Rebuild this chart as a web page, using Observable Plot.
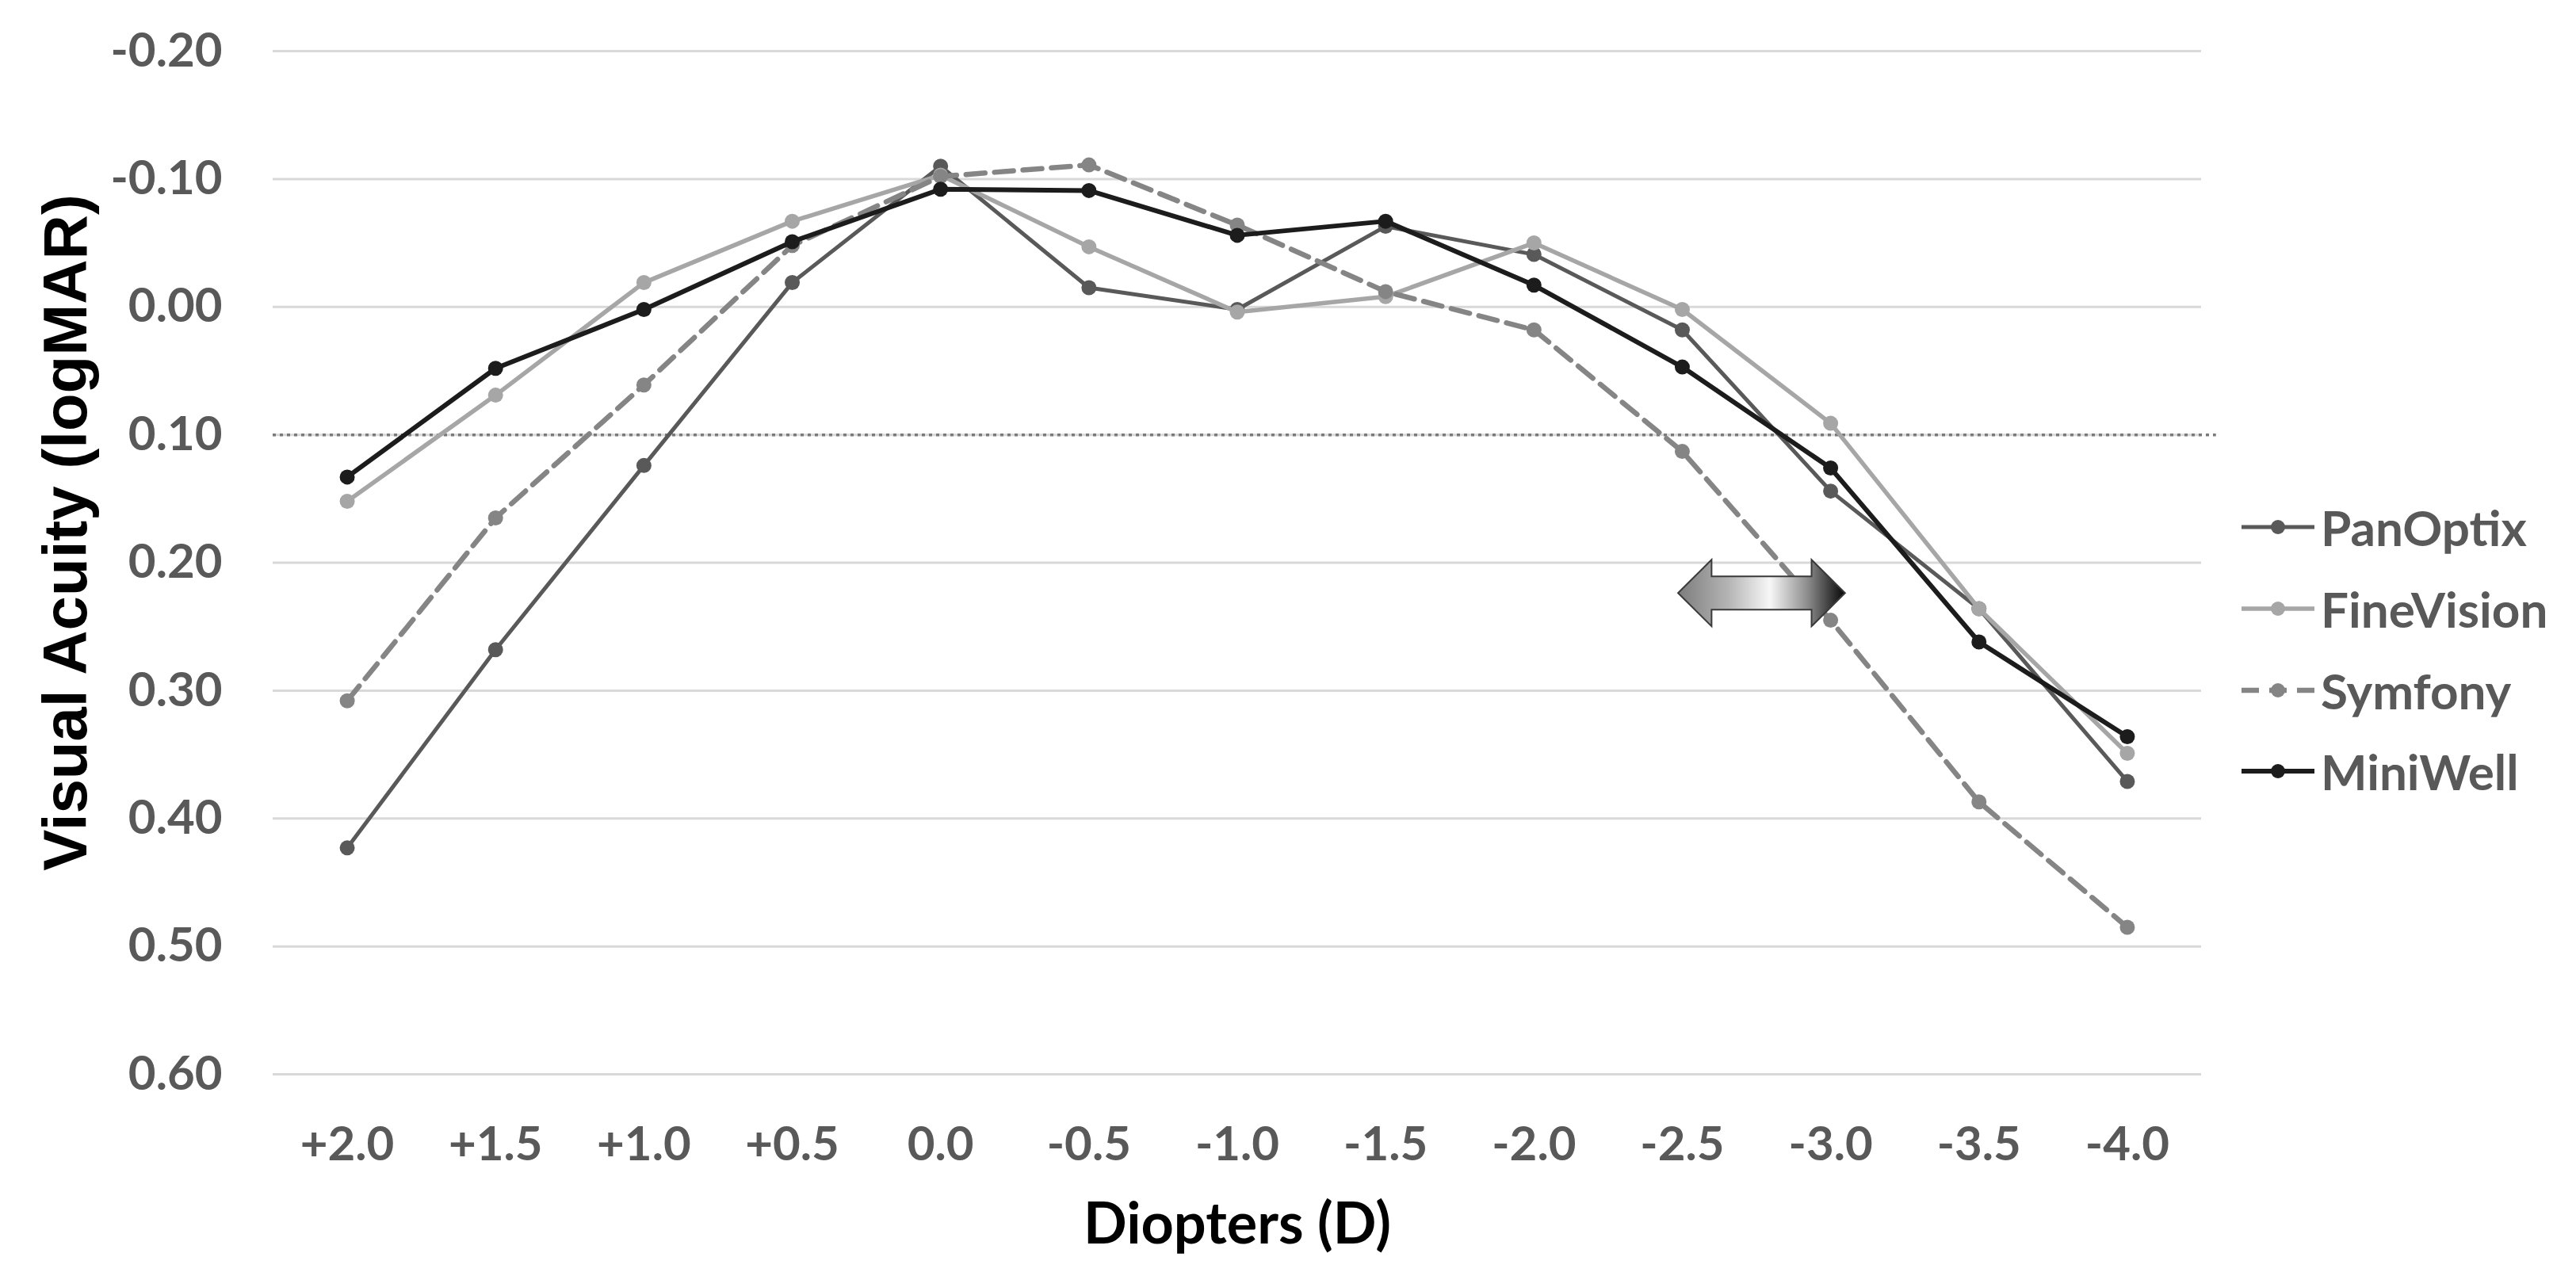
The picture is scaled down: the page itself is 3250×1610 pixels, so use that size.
<!DOCTYPE html>
<html>
<head>
<meta charset="utf-8">
<script src="https://cdn.jsdelivr.net/npm/d3@7"></script>
<script src="https://cdn.jsdelivr.net/npm/@observablehq/plot@0.6"></script>
<style>
  html, body { margin: 0; padding: 0; background: #fff; }
  #wrap { position: relative; width: 3250px; height: 1610px; }
  #legend { position: absolute; left: 2828px; top: 614px; font-family: Lato, sans-serif; font-weight: 700; font-size: 62px; color: #595959; }
  .row { display: flex; align-items: center; height: 102.7px; }
  .row svg { margin-right: 8px; }
</style>
</head>
<body>
<div id="wrap"></div>
<script>
// ---- data ----
const diopters = [2.0, 1.5, 1.0, 0.5, 0.0, -0.5, -1.0, -1.5, -2.0, -2.5, -3.0, -3.5, -4.0];
const xTickLabels = ["+2.0", "+1.5", "+1.0", "+0.5", "0.0", "-0.5", "-1.0", "-1.5", "-2.0", "-2.5", "-3.0", "-3.5", "-4.0"];
const yTicks = [-0.2, -0.1, 0, 0.1, 0.2, 0.3, 0.4, 0.5, 0.6];
const seriesNames = ["PanOptix", "FineVision", "Symfony", "MiniWell"];
const panOptix   = [0.423, 0.268, 0.124, -0.019, -0.110, -0.015, 0.002, -0.063, -0.041, 0.018, 0.144, 0.236, 0.371];
const fineVision = [0.152, 0.069, -0.019, -0.067, -0.103, -0.047, 0.004, -0.008, -0.050, 0.002, 0.091, 0.236, 0.349];
const symfony    = [0.308, 0.165, 0.061, -0.048, -0.102, -0.111, -0.064, -0.012, 0.018, 0.113, 0.245, 0.387, 0.485];
const miniWell   = [0.133, 0.048, 0.002, -0.051, -0.092, -0.091, -0.056, -0.067, -0.017, 0.047, 0.126, 0.262, 0.336];
const threshold = 0.1;
const thresholdSpan = [2.25, -4.3];
const arrowSpan = [-2.487, -3.05];
const arrowLevel = 0.224;

// ---- styles ----
const seriesValues = [panOptix, fineVision, symfony, miniWell];
const seriesColors = ["#595959", "#a6a6a6", "#858585", "#1c1c1c"];
const seriesWidths = [5, 5.5, 6.5, 6];
const seriesDash = [null, null, "24,12", null];

const rows = [];
seriesNames.forEach((name, s) => {
  diopters.forEach((d, i) => rows.push({series: name, d, v: seriesValues[s][i]}));
});

const seriesMarks = [];
seriesNames.forEach((name, s) => {
  const data = rows.filter(r => r.series === name);
  seriesMarks.push(Plot.line(data, {x: "d", y: "v", stroke: seriesColors[s], strokeWidth: seriesWidths[s],
    strokeDasharray: seriesDash[s] || undefined, strokeLinejoin: "round"}));
  seriesMarks.push(Plot.dot(data, {x: "d", y: "v", r: 9.5, fill: seriesColors[s], stroke: "none"}));
});

function arrowMark(index, scales) {
  const x = scales.x, y = scales.y;
  const xl = x(arrowSpan[0]), xr = x(arrowSpan[1]);
  const head = Math.abs(x(0) - x(0.113));
  const yc = y(arrowLevel);
  const sh = Math.abs(y(arrowLevel + 0.013) - yc);
  const hh = Math.abs(y(arrowLevel + 0.026) - yc);
  const g = d3.create("svg:g");
  const grad = g.append("defs").append("linearGradient").attr("id", "arrowGrad")
    .attr("x1", "0").attr("x2", "1").attr("y1", "0").attr("y2", "0");
  [[0, "#7c7c7c"], [0.3, "#b4b4b4"], [0.55, "#f7f7f7"], [0.78, "#8a8a8a"], [1, "#050505"]]
    .forEach(([o, c]) => grad.append("stop").attr("offset", o).attr("stop-color", c));
  const pts = [
    [xl, yc], [xl + head, yc - hh], [xl + head, yc - sh], [xr - head, yc - sh], [xr - head, yc - hh],
    [xr, yc], [xr - head, yc + hh], [xr - head, yc + sh], [xl + head, yc + sh], [xl + head, yc + hh]
  ];
  g.append("polygon").attr("points", pts.map(p => p.join(",")).join(" "))
    .attr("fill", "url(#arrowGrad)").attr("stroke", "#3a3a3a").attr("stroke-width", 2);
  return g.node();
}

const plot = Plot.plot({
  width: 3250,
  height: 1610,
  marginLeft: 344,
  marginRight: 473,
  marginTop: 64,
  marginBottom: 255,
  style: {fontFamily: "Lato, sans-serif", fontWeight: 700, fontSize: "60px", color: "#595959", background: "#fff", overflow: "visible"},
  x: {domain: [2.25, -4.25]},
  y: {domain: [-0.2, 0.6], reverse: true},
  marks: [
    Plot.ruleY(yTicks, {stroke: "#d9d9d9", strokeWidth: 3}),
    Plot.ruleY([threshold], {x1: thresholdSpan[0], x2: thresholdSpan[1], stroke: "#7a7a7a", strokeWidth: 3.5, strokeDasharray: "4,5"}),
    Plot.axisX({ticks: diopters, tickFormat: d => xTickLabels[diopters.indexOf(d)], tickSize: 0, tickPadding: 66, label: null, fontSize: 60}),
    Plot.axisY({ticks: yTicks, tickFormat: d => d.toFixed(2), tickSize: 0, tickPadding: 64, label: null, fontSize: 60}),
    ...seriesMarks,
    arrowMark,
    Plot.text(["Visual Acuity (logMAR)"], {frameAnchor: "left", textAnchor: "middle", lineAnchor: "middle", rotate: -90, dx: -260, dy: -38, fontFamily: "'Liberation Sans', Arial, sans-serif", fontWeight: 700, fontSize: 78, fill: "#000"}),
    Plot.text(["Diopters (D)"], {frameAnchor: "bottom", lineAnchor: "middle", dy: 190, fontSize: 72, fontWeight: 700, fill: "#000"})
  ]
});

const wrap = document.getElementById("wrap");
wrap.appendChild(plot);

// legend
const legend = d3.select(wrap).append("div").attr("id", "legend");
seriesNames.forEach((name, s) => {
  const row = legend.append("div").attr("class", "row");
  const sw = row.append("svg").attr("width", 92).attr("height", 24);
  sw.append("line").attr("x1", 0).attr("x2", 92).attr("y1", 12).attr("y2", 12)
    .attr("stroke", seriesColors[s]).attr("stroke-width", seriesWidths[s])
    .attr("stroke-dasharray", s === 2 ? "22,13,22,13,22" : null);
  sw.append("circle").attr("cx", 46).attr("cy", 12).attr("r", 9).attr("fill", seriesColors[s]);
  row.append("span").text(name);
});
</script>
</body>
</html>
